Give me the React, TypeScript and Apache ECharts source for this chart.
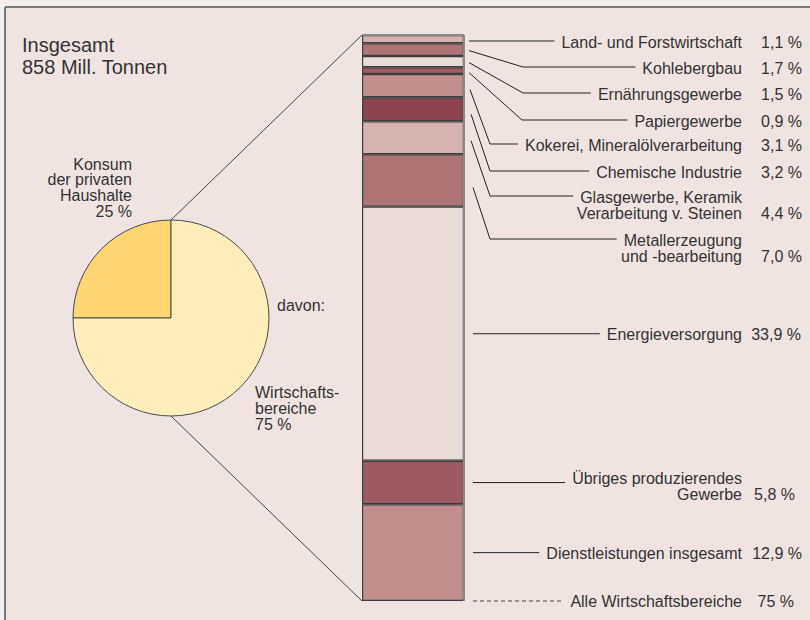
import React, { useEffect, useRef } from "react";
import * as echarts from "echarts";

// ---- data ----
const titleLines = ["Insgesamt", "858 Mill. Tonnen"];
const pieNames = ["Konsum der privaten Haushalte", "Wirtschaftsbereiche"];
const pieValues = [25, 75];
const pieLabelKonsum = ["Konsum", "der privaten", "Haushalte", "25 %"];
const pieLabelWirtschaft = ["Wirtschafts-", "bereiche", "75 %"];
const categories = [
  "Land- und Forstwirtschaft",
  "Kohlebergbau",
  "Ernährungsgewerbe",
  "Papiergewerbe",
  "Kokerei, Mineralölverarbeitung",
  "Chemische Industrie",
  "Glasgewerbe, Keramik\nVerarbeitung v. Steinen",
  "Metallerzeugung\nund -bearbeitung",
  "Energieversorgung",
  "Übriges produzierendes\nGewerbe",
  "Dienstleistungen insgesamt",
];
const values = [1.1, 1.7, 1.5, 0.9, 3.1, 3.2, 4.4, 7.0, 33.9, 5.8, 12.9];
const valueLabels = ["1,1 %", "1,7 %", "1,5 %", "0,9 %", "3,1 %", "3,2 %", "4,4 %", "7,0 %", "33,9 %", "5,8 %", "12,9 %"];
const totalLabel = "Alle Wirtschaftsbereiche";
const totalValueLabel = "75 %";

// ---- styles / layout ----
const segColors = ["#D5B3B0", "#AE7476", "#E9DBD7", "#A25B63", "#C28F8E", "#8C4550", "#D5B3B0", "#AE7476", "#E9DBD7", "#9E5A62", "#C28F8E"];
const pieColors = ["#FFD672", "#FFEDBC"];
const FONT = "'Liberation Sans', Arial, Helvetica, sans-serif";
const TXT = "#333333";
const FS = 16;
const LH = 16;
const BAR = { left: 362, top: 35, width: 102, height: 566 };
const PIE = { cx: 171, cy: 318, r: 98 };
const LABEL_RIGHT = 742;
// y of label (first line), knee x of leader, start x, start dy offset, value right edge
const labelLayout = [
  { y: 41, knee: null, sx: 469, dy: 1, vr: 802 },
  { y: 67, knee: 523, sx: 469, dy: 1, vr: 802 },
  { y: 93, knee: 523, sx: 469, dy: 1, vr: 802 },
  { y: 120, knee: 522, sx: 469, dy: 2, vr: 802 },
  { y: 144, knee: 490, sx: 470, dy: 4, vr: 802 },
  { y: 171, knee: 490, sx: 471, dy: 5, vr: 802 },
  { y: 196, knee: 490, sx: 471, dy: 3, vr: 802 },
  { y: 239, knee: 490, sx: 473, dy: 7, vr: 802 },
  { y: 333, knee: null, sx: 473, dy: 0, vr: 801 },
  { y: 477, knee: null, sx: 473, dy: 0, vr: 795 },
  { y: 552, knee: null, sx: 473, dy: 0, vr: 802 },
];

function measure(text: string, size: number) {
  const c = document.createElement("canvas").getContext("2d");
  if (!c) return text.length * size * 0.5;
  c.font = `${size}px 'Liberation Sans', Arial, sans-serif`;
  return c.measureText(text).width;
}

function txt(text: string, x: number, y: number, align: string, size = FS) {
  return {
    type: "text",
    x,
    y,
    silent: true,
    style: { text, fill: TXT, font: `${size}px ${FONT}`, textAlign: align, textVerticalAlign: "middle" },
  };
}

function line(x1: number, y1: number, x2: number, y2: number, extra: any = {}) {
  return {
    type: "line",
    silent: true,
    shape: { x1, y1, x2, y2 },
    style: { stroke: "#222", lineWidth: 1, ...extra },
  };
}

export default function App() {
  const ref = useRef<HTMLDivElement>(null);
  useEffect(() => {
    document.body.style.margin = "0";
    if (!ref.current) return;
    const chart = echarts.init(ref.current, undefined, { renderer: "svg" });
    const total = values.reduce((a, b) => a + b, 0);
    const scale = BAR.height / total;
    const barRight = BAR.left + BAR.width;
    const barBottom = BAR.top + BAR.height;

    const g: any[] = [];
    // frame
    g.push({ type: "rect", silent: true, shape: { x: 5, y: 7, width: 805, height: 613 }, style: { fill: "#F0E4E2" } });
    g.push(line(5, 7, 810, 7, { stroke: "#7a7a7a", lineWidth: 2 }));
    g.push(line(5, 7, 5, 620, { stroke: "#7a7a7a", lineWidth: 2 }));
    // title
    titleLines.forEach((t, i) => g.push(txt(t, 22, 45 + i * 22, "left", 20)));
    // pie labels
    pieLabelKonsum.forEach((t, i) => g.push(txt(t, 132, 164 + i * 15.7, "right")));
    g.push(txt("davon:", 277, 305, "left"));
    pieLabelWirtschaft.forEach((t, i) => g.push(txt(t, 255, 392 + i * 16, "left")));
    // pie-to-bar connectors
    g.push(line(PIE.cx, PIE.cy - PIE.r, BAR.left, BAR.top, { stroke: "#444" }));
    g.push(line(PIE.cx, PIE.cy + PIE.r, BAR.left, barBottom, { stroke: "#444" }));
    // bar right edge (grey)
    g.push({ ...line(barRight, BAR.top, barRight, barBottom, { stroke: "#8a8a8a", lineWidth: 2 }), z: 10 });
    g.push({ ...line(BAR.left, BAR.top, barRight, BAR.top, { stroke: "#8a8a8a", lineWidth: 2 }), z: 10 });

    // labels and leaders
    let cum = 0;
    categories.forEach((cat, i) => {
      const lay = labelLayout[i];
      const center = BAR.top + (cum + values[i] / 2) * scale;
      cum += values[i];
      const lines = cat.split("\n");
      lines.forEach((t, k) => g.push(txt(t, LABEL_RIGHT, lay.y + 1 + k * LH, "right")));
      g.push(txt(valueLabels[i], lay.vr, lay.y + 1 + (lines.length - 1) * LH, "right"));
      const textLeft = LABEL_RIGHT - measure(lines[0], FS) - 7;
      const sy = center + lay.dy;
      if (lay.knee == null) {
        g.push(line(lay.sx, i === 0 ? lay.y : sy, textLeft, i === 0 ? lay.y : sy));
      } else {
        g.push({
          type: "polyline",
          silent: true,
          shape: { points: [[lay.sx, sy], [lay.knee, lay.y], [textLeft, lay.y]] },
          style: { stroke: "#222", lineWidth: 1, fill: null },
        });
      }
    });
    // total
    g.push(txt(totalLabel, LABEL_RIGHT, barBottom, "right"));
    g.push(txt(totalValueLabel, 794, barBottom, "right"));
    g.push(line(473, barBottom, LABEL_RIGHT - measure(totalLabel, FS) - 7, barBottom, { stroke: "#444", lineDash: [4, 3] }));

    chart.setOption({
      animation: false,
      backgroundColor: "#F5EFEE",
      textStyle: { fontFamily: FONT },
      graphic: { elements: g },
      grid: { left: BAR.left, top: BAR.top, width: BAR.width, height: BAR.height, containLabel: false },
      xAxis: { type: "category", data: ["Wirtschaftsbereiche"], show: false },
      yAxis: { type: "value", inverse: true, min: 0, max: total, show: false },
      series: [
        ...values.map((v, i) => ({
          type: "bar",
          name: categories[i],
          stack: "all",
          barWidth: "100%",
          silent: true,
          data: [v],
          itemStyle: { color: segColors[i], borderColor: "#3d3d3d", borderWidth: 1.2 },
        })),
        {
          type: "pie",
          silent: true,
          center: [PIE.cx, PIE.cy],
          radius: PIE.r,
          startAngle: 90,
          clockwise: false,
          label: { show: false },
          labelLine: { show: false },
          itemStyle: { borderColor: "#4a4a4a", borderWidth: 1 },
          data: pieNames.map((n, i) => ({ name: n, value: pieValues[i], itemStyle: { color: pieColors[i] } })),
        },
      ],
    });
    return () => chart.dispose();
  }, []);
  return <div ref={ref} style={{ width: 810, height: 620 }} />;
}
